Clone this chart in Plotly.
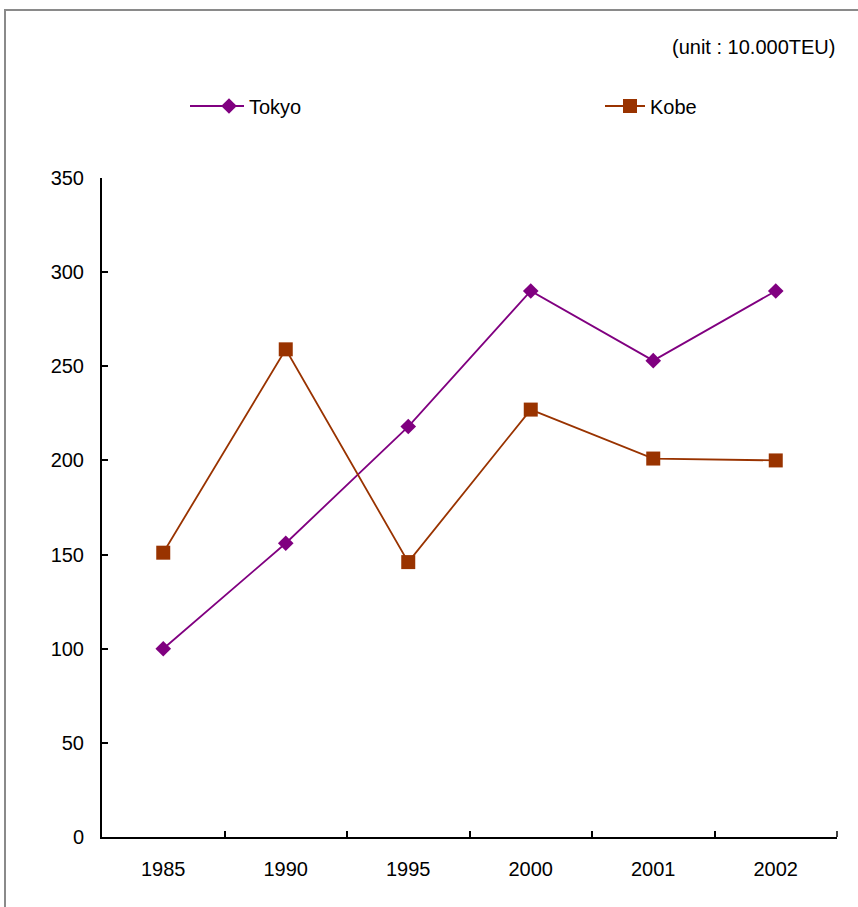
import plotly.graph_objects as go

# Container throughput, unit: 10,000 TEU
years = ["1985", "1990", "1995", "2000", "2001", "2002"]
tokyo = [100, 156, 218, 290, 253, 290]
kobe = [151, 259, 146, 227, 201, 200]
y_ticks = [0, 50, 100, 150, 200, 250, 300, 350]

TOKYO_COLOR = "#800080"
KOBE_COLOR = "#993300"

W, H = 858, 907
L, R, T, B = 102, 21, 178, 70
pw, ph = W - L - R, H - T - B


def px_x(p):
    return (p - L) / pw


def px_y(p):
    return (H - B - p) / ph


font = dict(family="Liberation Sans, Arial, sans-serif", size=20, color="black")

fig = go.Figure()
fig.add_trace(go.Scatter(
    x=years, y=tokyo, name="Tokyo", mode="lines+markers",
    line=dict(color=TOKYO_COLOR, width=1.8),
    marker=dict(symbol="diamond", size=12, color=TOKYO_COLOR),
    legend="legend",
))
fig.add_trace(go.Scatter(
    x=years, y=kobe, name="Kobe", mode="lines+markers",
    line=dict(color=KOBE_COLOR, width=1.8),
    marker=dict(symbol="square", size=14, color=KOBE_COLOR),
    legend="legend2",
))

legend_common = dict(
    orientation="h", yanchor="middle", xanchor="left",
    font=font, bgcolor="rgba(0,0,0,0)",
)

# legend sample lines are lengthened to the left
legend_ext = [(190, 216, TOKYO_COLOR), (605, 626, KOBE_COLOR)]

shapes = [
    dict(
        type="rect", xref="paper", yref="paper",
        x0=px_x(5), x1=px_x(W + 10), y0=px_y(H + 10), y1=px_y(10),
        line=dict(color="#8a8a8a", width=2), fillcolor="rgba(0,0,0,0)", layer="below",
    ),
    # closing tick at the right end of the category axis
    dict(
        type="line", xref="paper", yref="paper",
        x0=1, x1=1, y0=0, y1=px_y(H - B - 6),
        line=dict(color="black", width=1.5),
    ),
]
for a, b, c in legend_ext:
    shapes.append(dict(
        type="line", xref="paper", yref="paper",
        x0=px_x(a), x1=px_x(b), y0=px_y(106), y1=px_y(106),
        line=dict(color=c, width=2),
    ))

fig.update_layout(
    width=W, height=H,
    margin=dict(l=L, r=R, t=T, b=B),
    paper_bgcolor="white", plot_bgcolor="white",
    font=font,
    showlegend=True,
    legend=dict(x=px_x(209), y=px_y(106), **legend_common),
    legend2=dict(x=px_x(610), y=px_y(106), **legend_common),
    xaxis=dict(
        type="category", range=[-0.5, 5.5],
        showline=True, linecolor="black", linewidth=2,
        ticks="inside", tickson="boundaries", ticklen=6, tickwidth=1.5, tickcolor="black",
        showgrid=False, zeroline=False, tickfont=font, ticklabelstandoff=13,
    ),
    yaxis=dict(
        range=[0, 350], tickvals=y_ticks, ticktext=[str(v) for v in y_ticks],
        showline=True, linecolor="black", linewidth=2,
        ticks="inside", ticklen=6, tickwidth=1.5, tickcolor="black",
        showgrid=False, zeroline=False, tickfont=font, ticklabelstandoff=12,
    ),
    annotations=[dict(
        text="(unit : 10.000TEU)", xref="paper", yref="paper",
        x=px_x(837), y=px_y(47), xanchor="right", yanchor="middle",
        showarrow=False, font=font,
    )],
    shapes=shapes,
)

fig.write_html("out.html")
